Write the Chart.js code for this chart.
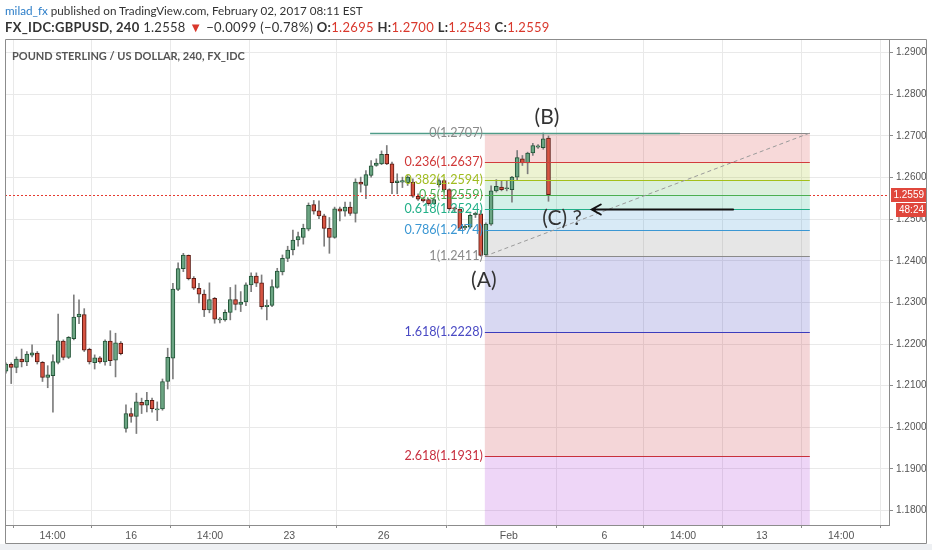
<!DOCTYPE html>
<html><head><meta charset="utf-8">
<script src="https://cdn.jsdelivr.net/npm/chart.js@4.4.0/dist/chart.umd.min.js"></script>
<style>
html,body{margin:0;padding:0;background:#fff;}
body{width:932px;height:550px;position:relative;overflow:hidden;font-family:Lato,"Open Sans",sans-serif;}
#strip{position:absolute;left:0;top:544px;width:932px;height:6px;background:#eef0f3;}
#c{position:absolute;left:0;top:0;}
.h{position:absolute;left:5px;white-space:nowrap;color:#333;}
#h1{top:3px;font-size:11.7px;}
#h2{top:19px;font-size:13px;letter-spacing:0.3px;}
#h1 .u{color:#2b7dc8;}
.r{color:#d9382c;}
#title{position:absolute;left:12px;top:49px;font-size:11px;font-weight:700;color:#555;white-space:nowrap;}
</style></head>
<body>
<div id="strip"></div>
<canvas id="c" width="932" height="550"></canvas>
<div class="h" id="h1"><span class="u">milad_fx</span> published on TradingView.com, February 02, 2017 08:11 EST</div>
<div class="h" id="h2"><b>FX_IDC:GBPUSD, 240</b> 1.2558 <span class="r">▼</span> −0.0099 (−0.78%) <b>O:</b><span class="r">1.2695</span> <b>H:</b><span class="r">1.2700</span> <b>L:</b><span class="r">1.2543</span> <b>C:</b><span class="r">1.2559</span></div>
<div id="title">POUND STERLING / US DOLLAR, 240, FX_IDC</div>
<script>
// ---- data (4h candles, index 0 = first candle of 16 Jan) ----
const startIndex = -24;
const openV = [1.2135,1.2151,1.2144,1.2164,1.2157,1.2173,1.2178,1.2156,1.2120,1.2124,1.2156,1.2207,1.2168,1.2213,1.2265,1.2271,1.2187,1.2155,1.2167,1.2157,1.2207,1.2161,1.2202,
 1.1997,1.2033,1.2026,1.2060,1.2053,1.2065,1.2042,1.2044,1.2110,1.2166,1.2331,1.2381,1.2413,1.2358,1.2334,1.2320,1.2282,1.2310,1.2258,1.2258,1.2276,1.2307,1.2295,
 1.2301,1.2342,1.2363,1.2347,1.2290,1.2293,1.2336,1.2373,1.2406,1.2426,1.2450,1.2456,1.2476,1.2535,1.2520,1.2508,1.2478,1.2456,1.2525,1.2519,1.2529,1.2514,
 1.2589,1.2581,1.2605,1.2629,1.2633,1.2656,1.2633,1.2588,1.2589,1.2588,1.2589,1.2555,1.2549,1.2547,1.2537,1.2583,1.2593,1.2571,1.2527,1.2524,1.2479,1.2481,
 1.2511,1.2513,1.2414,1.2488,1.2568,1.2577,1.2573,1.2571,1.2601,1.2645,1.2635,1.2659,1.2673,1.2672,1.2695];
const highV = [1.2155,1.2155,1.2169,1.2188,1.2182,1.2198,1.2182,1.2158,1.2148,1.2174,1.2272,1.2210,1.2218,1.2318,1.2306,1.2285,1.2190,1.2174,1.2170,1.2210,1.2232,1.2226,1.2206,
 1.2054,1.2046,1.2082,1.2070,1.2084,1.2070,1.2061,1.2116,1.2190,1.2346,1.2395,1.2418,1.2414,1.2362,1.2346,1.2330,1.2347,1.2312,1.2264,1.2282,1.2336,1.2342,1.2326,
 1.2347,1.2371,1.2371,1.2366,1.2306,1.2354,1.2382,1.2414,1.2435,1.2474,1.2469,1.2488,1.2539,1.2545,1.2544,1.2512,1.2504,1.2529,1.2529,1.2541,1.2541,1.2597,
 1.2601,1.2617,1.2641,1.2645,1.2664,1.2677,1.2637,1.2609,1.2601,1.2605,1.2597,1.2561,1.2553,1.2549,1.2551,1.2597,1.2595,1.2573,1.2529,1.2525,1.2487,1.2513,
 1.2517,1.2521,1.2491,1.2580,1.2595,1.2593,1.2591,1.2603,1.2665,1.2653,1.2661,1.2682,1.2679,1.2707,1.2700];
const lowV = [1.2130,1.2105,1.2131,1.2145,1.2148,1.2169,1.2152,1.2110,1.2095,1.2036,1.2152,1.2162,1.2165,1.2210,1.2249,1.2182,1.2152,1.2140,1.2154,1.2149,1.2148,1.2121,1.2174,
 1.1988,1.2012,1.1985,1.2033,1.2037,1.2036,1.2016,1.2041,1.2092,1.2116,1.2328,1.2374,1.2354,1.2331,1.2299,1.2266,1.2275,1.2250,1.2251,1.2255,1.2258,1.2282,1.2278,
 1.2292,1.2326,1.2338,1.2284,1.2258,1.2290,1.2334,1.2366,1.2398,1.2414,1.2435,1.2440,1.2472,1.2512,1.2501,1.2435,1.2418,1.2454,1.2496,1.2507,1.2509,1.2493,
 1.2565,1.2549,1.2601,1.2627,1.2631,1.2631,1.2561,1.2561,1.2576,1.2581,1.2552,1.2545,1.2541,1.2533,1.2536,1.2577,1.2565,1.2521,1.2517,1.2474,1.2475,1.2478,
 1.2504,1.2411,1.2411,1.2485,1.2565,1.2568,1.2568,1.2541,1.2593,1.2629,1.2609,1.2653,1.2670,1.2668,1.2543];
const closeV = [1.2152,1.2144,1.2164,1.2157,1.2176,1.2179,1.2157,1.2120,1.2126,1.2158,1.2208,1.2168,1.2216,1.2265,1.2272,1.2185,1.2157,1.2167,1.2157,1.2207,1.2160,1.2203,1.2177,
 1.2033,1.2026,1.2061,1.2053,1.2065,1.2045,1.2043,1.2110,1.2168,1.2332,1.2381,1.2414,1.2357,1.2334,1.2320,1.2282,1.2307,1.2260,1.2259,1.2276,1.2307,1.2295,1.2301,
 1.2342,1.2363,1.2346,1.2290,1.2293,1.2338,1.2375,1.2406,1.2426,1.2450,1.2458,1.2478,1.2533,1.2519,1.2508,1.2478,1.2456,1.2525,1.2519,1.2529,1.2514,1.2589,
 1.2584,1.2607,1.2628,1.2635,1.2656,1.2633,1.2588,1.2592,1.2593,1.2601,1.2555,1.2548,1.2544,1.2537,1.2547,1.2593,1.2571,1.2525,1.2524,1.2478,1.2483,1.2509,
 1.2514,1.2413,1.2488,1.2568,1.2579,1.2571,1.2573,1.2601,1.2648,1.2635,1.2659,1.2677,1.2676,1.2693,1.2559];

const xTickPos = [-15.07, 0, 15.1, 30.3, 48.4, 72.4, 90.7, 105.8, 120.9, 136.1];
const xTickLabels = ['14:00','16','14:00','23','26','Feb','6','14:00','13','14:00'];

const fibRatios = ['0','0.236','0.382','0.5','0.618','0.786','1','1.618','2.618'];
const fibPrices = [1.2707,1.2637,1.2594,1.2559,1.2524,1.2474,1.2411,1.2228,1.1931];
const fibLineColors = ['#8a8a8a','#d23c3c','#a3bf1a','#4caf50','#22b088','#3b97d3','#8a8a8a','#3c3cbc','#c8303c'];
const fibLabelColors = ['#8a8a8a','#d03838','#a0bc20','#4cae50','#22b088','#3b97d3','#8a8a8a','#4a4ac4','#c83040'];
const fibFillColors = ['rgba(216,64,64,0.2)','rgba(165,194,29,0.2)','rgba(76,175,80,0.2)','rgba(37,181,138,0.2)','rgba(59,151,211,0.2)','rgba(128,128,128,0.2)','rgba(60,60,188,0.2)','rgba(200,48,60,0.2)','rgba(170,50,215,0.2)'];
const fibStart = 67.8, fibEnd = 130.1;

const lastPrice = 1.2559;
const countdown = '48:24';
const annoTexts = ['(B)','(A)','(C) ?'];
const annoX = [79.7, 67.6, 82.6];
const annoY = [1.27455, 1.23539, 1.25028];
const arrowX = [115.4, 88.3];
const arrowPrice = 1.25245;
const hLineX = [45.8, 105.2];
const hLinePrice = 1.2707;

// ---- build ----
const xs = openV.map((_, k) => startIndex + k);
const up = k => closeV[k] >= openV[k];
const bodies = xs.map((x, k) => ({x, y: [openV[k], closeV[k]]}));
const wicks = xs.map((x, k) => ({x, y: [lowV[k], highV[k]]}));

const pricePlugin = {
  id: 'tvdraw',
  beforeDatasetsDraw(chart) {
    const {ctx, chartArea: a, scales: {x, y}} = chart;
    ctx.save();
    ctx.beginPath(); ctx.rect(a.left, a.top, a.right - a.left, a.bottom - a.top); ctx.clip();
    const xl = x.getPixelForValue(fibStart), xr = x.getPixelForValue(fibEnd);
    for (let k = 0; k < fibPrices.length; k++) {
      const y1 = y.getPixelForValue(fibPrices[k]);
      const y2 = k + 1 < fibPrices.length ? y.getPixelForValue(fibPrices[k + 1]) : a.bottom;
      ctx.fillStyle = fibFillColors[k];
      ctx.fillRect(xl, y1, xr - xl, y2 - y1);
    }
    ctx.restore();
  },
  afterDatasetsDraw(chart) {
    const {ctx, chartArea: a, scales: {x, y}} = chart;
    ctx.save();
    ctx.beginPath(); ctx.rect(a.left, a.top, a.right - a.left, a.bottom - a.top); ctx.clip();
    const xl = x.getPixelForValue(fibStart), xr = x.getPixelForValue(fibEnd);
    // last price dotted line
    const py = Math.round(y.getPixelForValue(lastPrice)) + 0.5;
    ctx.strokeStyle = '#e53a30'; ctx.lineWidth = 1; ctx.setLineDash([2, 2]);
    ctx.beginPath(); ctx.moveTo(a.left, py); ctx.lineTo(a.right, py); ctx.stroke();
    ctx.setLineDash([]);
    // fib level lines
    for (let k = 0; k < fibPrices.length; k++) {
      const yy = Math.round(y.getPixelForValue(fibPrices[k])) + 0.5;
      ctx.strokeStyle = fibLineColors[k]; ctx.lineWidth = 1;
      ctx.beginPath(); ctx.moveTo(xl, yy); ctx.lineTo(xr, yy); ctx.stroke();
    }
    // user horizontal line
    const hy = Math.round(y.getPixelForValue(hLinePrice)) + 0.5;
    ctx.strokeStyle = '#4f9c88'; ctx.lineWidth = 1.5;
    ctx.beginPath(); ctx.moveTo(x.getPixelForValue(hLineX[0]), hy); ctx.lineTo(x.getPixelForValue(hLineX[1]), hy); ctx.stroke();
    // diagonal dashed trend
    ctx.strokeStyle = '#9a9a9a'; ctx.lineWidth = 1; ctx.setLineDash([4, 3]);
    ctx.beginPath();
    ctx.moveTo(xl, y.getPixelForValue(fibPrices[6]));
    ctx.lineTo(xr, y.getPixelForValue(fibPrices[0]));
    ctx.stroke(); ctx.setLineDash([]);
    // fib labels
    ctx.font = '12.6px Lato, "Open Sans", sans-serif';
    ctx.textAlign = 'right'; ctx.textBaseline = 'middle';
    for (let k = 0; k < fibPrices.length; k++) {
      ctx.fillStyle = fibLabelColors[k];
      ctx.fillText(fibRatios[k] + '(' + fibPrices[k].toFixed(4) + ')', xl - 2, y.getPixelForValue(fibPrices[k]));
    }
    // arrow
    const ay = Math.round(y.getPixelForValue(arrowPrice)) + 0.5;
    const ax0 = x.getPixelForValue(arrowX[0]), ax1 = x.getPixelForValue(arrowX[1]);
    ctx.strokeStyle = '#111'; ctx.lineWidth = 2; ctx.lineCap = 'round';
    ctx.beginPath(); ctx.moveTo(ax0, ay); ctx.lineTo(ax1, ay);
    ctx.moveTo(ax1 + 9, ay - 5); ctx.lineTo(ax1, ay); ctx.lineTo(ax1 + 9, ay + 5); ctx.stroke();
    // wave annotations
    ctx.font = '21px Lato, "Open Sans", sans-serif';
    ctx.fillStyle = '#333'; ctx.textAlign = 'center';
    for (let k = 0; k < annoTexts.length; k++) {
      ctx.fillText(annoTexts[k], x.getPixelForValue(annoX[k]), y.getPixelForValue(annoY[k]));
    }
    ctx.restore();
  },
  afterDraw(chart) {
    const {ctx, chartArea: a, scales: {y}} = chart;
    ctx.save();
    ctx.strokeStyle = '#8c8c8c'; ctx.lineWidth = 1;
    ctx.beginPath();
    ctx.moveTo(a.left + 0.5, a.top - 0.5); ctx.lineTo(926.5, a.top - 0.5);
    ctx.moveTo(a.left + 0.5, a.top - 0.5); ctx.lineTo(a.left + 0.5, 543.5);
    ctx.lineTo(926.5, 543.5); ctx.lineTo(926.5, a.top - 0.5);
    ctx.stroke();
    // price label boxes
    const py = Math.round(y.getPixelForValue(lastPrice));
    ctx.fillStyle = '#e0473c';
    ctx.fillRect(891, py - 7, 35, 14);
    ctx.fillRect(896, py + 8, 30, 14);
    ctx.fillStyle = '#fff';
    ctx.font = '10px "Liberation Sans", Arial, sans-serif';
    ctx.textAlign = 'right'; ctx.textBaseline = 'middle';
    ctx.fillText(lastPrice.toFixed(4), 924, py);
    ctx.fillText(countdown, 924, py + 15);
    ctx.restore();
  }
};

new Chart(document.getElementById('c'), {
  type: 'bar',
  data: {
    datasets: [
      { label: 'wick', data: wicks, grouped: false, order: 2, barThickness: 1,
        backgroundColor: '#7d7d7d', borderWidth: 0 },
      { label: 'body', data: bodies, grouped: false, order: 1, barThickness: 4, minBarLength: 1,
        backgroundColor: ctx => up(ctx.dataIndex) ? '#6ba583' : '#d75442',
        borderColor: ctx => up(ctx.dataIndex) ? '#225437' : '#5b1a13',
        borderWidth: 1, borderSkipped: false }
    ]
  },
  options: {
    responsive: false, animation: false, devicePixelRatio: 1,
    layout: { padding: { left: 5, top: 40, right: 6, bottom: 7 } },
    plugins: { legend: { display: false }, tooltip: { enabled: false } },
    scales: {
      x: {
        type: 'linear', min: -24.19, max: 145.28, offset: false,
        afterBuildTicks(s) { s.ticks = xTickPos.map(v => ({ value: v })); },
        afterFit(s) { s.height = 18; },
        ticks: { autoSkip: false, maxRotation: 0, color: '#555', padding: 2,
          font: { size: 10.5, family: '"Liberation Sans", Arial, sans-serif' },
          callback: (v, i) => xTickLabels[i] },
        grid: { color: '#e9e9e9', tickLength: 3, tickColor: '#8c8c8c' },
        border: { color: '#8c8c8c' }
      },
      y: {
        position: 'right', min: 1.17652, max: 1.29305,
        afterFit(s) { s.width = 37; },
        ticks: { stepSize: 0.01, includeBounds: false, color: '#555', padding: 3,
          font: { size: 10, family: '"Liberation Sans", Arial, sans-serif' },
          callback: v => Number(v).toFixed(4) },
        grid: { color: '#e9e9e9', tickLength: 4, tickColor: '#8c8c8c' },
        border: { color: '#8c8c8c' }
      }
    }
  },
  plugins: [pricePlugin]
});
</script>
</body></html>
